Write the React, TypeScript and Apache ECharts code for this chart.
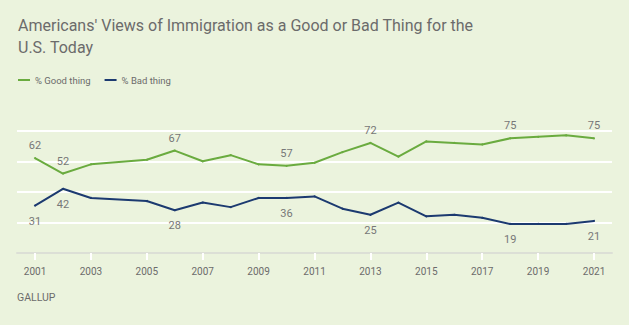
import React, { useEffect, useRef } from "react";
import * as echarts from "echarts";

const years = [2001, 2002, 2003, 2005, 2006, 2007, 2008, 2009, 2010, 2011, 2012, 2013, 2014, 2015, 2016, 2017, 2018, 2019, 2020, 2021];
const goodThing = [62, 52, 58, 61, 67, 60, 64, 58, 57, 59, 66, 72, 63, 73, 72, 71, 75, 76, 77, 75];
const badThing = [31, 42, 36, 34, 28, 33, 30, 36, 36, 37, 29, 25, 33, 24, 25, 23, 19, 19, 19, 21];
const labeledYears = [2001, 2002, 2006, 2010, 2013, 2018, 2021];
const tickYears = [2001, 2003, 2005, 2007, 2009, 2011, 2013, 2015, 2017, 2019, 2021];

const FONT = "Roboto";

function buildData(values: number[]) {
  return years.map((y, i) => ({
    value: [y, values[i]],
    label: { show: labeledYears.includes(y) },
  }));
}

export default function App() {
  const ref = useRef<HTMLDivElement>(null);
  useEffect(() => {
    if (!ref.current) return;
    const chart = echarts.init(ref.current, null, { renderer: "svg" });
    chart.setOption({
      animation: false,
      backgroundColor: "#ebf3dd",
      textStyle: { fontFamily: FONT },
      title: {
        text: "Americans' Views of Immigration as a Good or Bad Thing for the\nU.S. Today",
        left: 13,
        top: 9,
        textStyle: {
          fontFamily: FONT,
          fontSize: 16,
          fontWeight: "normal",
          color: "#6b6b6b",
          lineHeight: 22,
        },
      },
      legend: {
        left: 13,
        top: 70,
        icon: "rect",
        itemWidth: 12,
        itemHeight: 2,
        itemGap: 14,
        textStyle: { fontFamily: FONT, fontSize: 9.5, color: "#6b6b6b" },
        data: ["% Good thing", "% Bad thing"],
      },
      grid: { left: 17, right: 17, top: 130.7, bottom: 72 },
      xAxis: {
        type: "value",
        min: 2000.356,
        max: 2021.644,
        splitLine: { show: false },
        axisLine: { show: true, lineStyle: { color: "#dcdfd6", width: 2 } },
        axisTick: {
          show: true,
          customValues: tickYears,
          length: 7,
          lineStyle: { color: "#ffffff", width: 2 },
        },
        axisLabel: {
          customValues: tickYears,
          margin: 13,
          fontSize: 10,
          color: "#6b6b6b",
          fontFamily: FONT,
          formatter: (v: number) => String(Math.round(v)),
        },
      },
      yAxis: {
        type: "value",
        min: 0,
        max: 80,
        interval: 20,
        axisLine: { show: false },
        axisTick: { show: false },
        axisLabel: { show: false },
        splitLine: { show: true, lineStyle: { color: "#ffffff", width: 2 } },
      },
      series: [
        {
          name: "% Good thing",
          type: "line",
          data: buildData(goodThing),
          symbol: "circle",
          symbolSize: 2,
          color: "#6aab3f",
          lineStyle: { width: 2, color: "#6aab3f" },
          label: { position: "top", distance: 6, fontSize: 11, color: "#777777", fontFamily: FONT },
          z: 3,
        },
        {
          name: "% Bad thing",
          type: "line",
          data: buildData(badThing),
          symbol: "circle",
          symbolSize: 2,
          color: "#1c3a70",
          lineStyle: { width: 2, color: "#1c3a70" },
          label: { position: "bottom", distance: 9, fontSize: 11, color: "#777777", fontFamily: FONT },
          z: 3,
        },
      ],
      graphic: [
        {
          type: "text",
          left: 17,
          top: 292,
          style: { text: "GALLUP", fontSize: 10.5, fill: "#6b6b6b", fontFamily: FONT },
        },
      ],
    });
    return () => chart.dispose();
  }, []);
  return (
    <div
      ref={ref}
      style={{ position: "fixed", left: 0, top: 0, width: 629, height: 325 }}
    />
  );
}
